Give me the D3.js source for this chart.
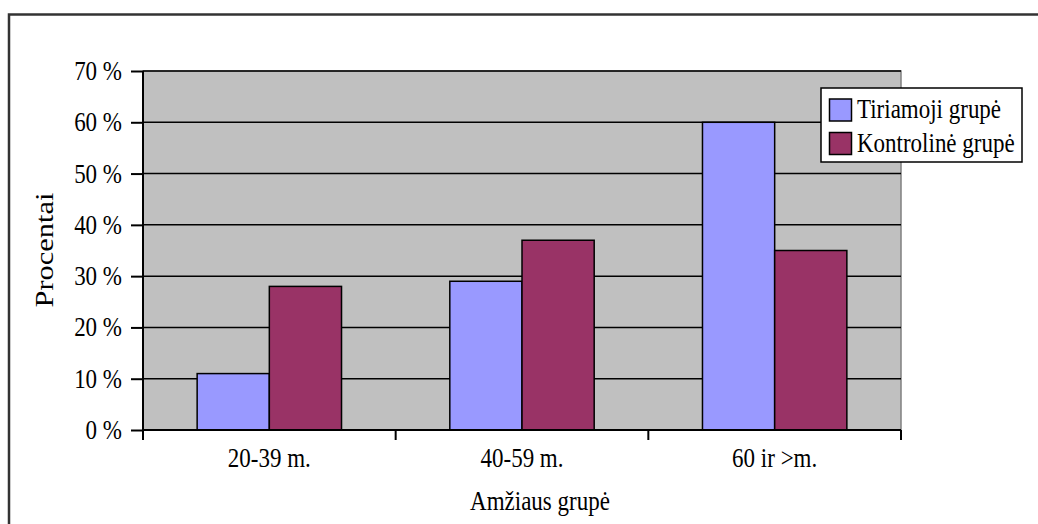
<!DOCTYPE html>
<html><head><meta charset="utf-8">
<script src="https://cdn.jsdelivr.net/npm/d3@7"></script>
<style>html,body{margin:0;padding:0;background:#fff;}svg{display:block;}</style>
</head><body>
<svg id="c" width="1038" height="524"></svg>
<script>
const categories = ["20-39 m.", "40-59 m.", "60 ir >m."];
const seriesNames = ["Tiriamoji grupė", "Kontrolinė grupė"];
const tiriamoji = [11, 29, 60];
const kontroline = [28, 37, 35];
const yTicks = [0, 10, 20, 30, 40, 50, 60, 70];
const colors = ["#9999FF", "#993366"];

const svg = d3.select("#c");
const font = "'Liberation Serif','Times New Roman',serif";
const fs = 23;
const sy = 1.15;
const L = 143, R = 901, T = 71, B = 430;

// outer border
svg.append("rect").attr("x", 9).attr("y", 14.5).attr("width", 1100).attr("height", 600)
  .attr("fill", "none").attr("stroke", "#333").attr("stroke-width", 2.5);

const x = d3.scaleBand().domain(categories).range([L, R]).paddingInner(0).paddingOuter(0);
const y = d3.scaleLinear().domain([0, 70]).range([B, T]);

svg.append("rect").attr("x", L).attr("y", T).attr("width", R - L).attr("height", B - T)
  .attr("fill", "#C0C0C0").attr("stroke", "#808080").attr("stroke-width", 1.5);

// gridlines
svg.append("g").selectAll("line").data(yTicks.filter(d => d > 0)).join("line")
  .attr("x1", L).attr("x2", R).attr("y1", d => y(d)).attr("y2", d => y(d))
  .attr("stroke", "#000").attr("stroke-width", 1.5);

// bars
const bw = x.bandwidth() / 3.5;
const data = [tiriamoji, kontroline];
data.forEach((vals, si) => {
  svg.append("g").selectAll("rect").data(categories).join("rect")
    .attr("x", (c) => x(c) + x.bandwidth() / 2 - bw + si * bw)
    .attr("y", (c, i) => y(vals[i]))
    .attr("width", bw)
    .attr("height", (c, i) => B - y(vals[i]))
    .attr("fill", colors[si]).attr("stroke", "#000").attr("stroke-width", 1.5);
});

// y axis
const yAxis = d3.axisLeft(y).tickValues(yTicks).tickSize(12).tickPadding(9).tickFormat(d => d + " %");
const gy = svg.append("g").attr("transform", `translate(${L},0)`).call(yAxis);
gy.select(".domain").attr("stroke", "#000").attr("stroke-width", 2).attr("d", `M0,${T}V${B}`);
gy.selectAll(".tick line").attr("stroke", "#000").attr("stroke-width", 2);
gy.selectAll(".tick text").attr("font-family", font).attr("font-size", fs).attr("fill", "#000")
  .attr("transform", `scale(1,${sy})`);

// x axis
const gx = svg.append("g").attr("transform", `translate(0,${B})`);
gx.append("line").attr("x1", L).attr("x2", R).attr("y1", 0).attr("y2", 0).attr("stroke", "#000").attr("stroke-width", 2);
const bounds = [L].concat(categories.map(c => x(c) + x.bandwidth()));
gx.selectAll("line.t").data(bounds).join("line").attr("class", "t")
  .attr("x1", d => d).attr("x2", d => d).attr("y1", 0).attr("y2", 10)
  .attr("stroke", "#000").attr("stroke-width", 2);
gx.selectAll("text").data(categories).join("text")
  .attr("transform", d => `translate(${x(d) + x.bandwidth() / 2},37) scale(1,${sy})`)
  .attr("text-anchor", "middle").attr("font-family", font).attr("font-size", fs).text(d => d);

// titles
svg.append("text").attr("transform", `translate(540,510) scale(1,${sy})`).attr("text-anchor", "middle")
  .attr("font-family", font).attr("font-size", fs).text("Amžiaus grupė");
svg.append("text").attr("transform", "translate(53,250) scale(1,1.17) rotate(-90)").attr("text-anchor", "middle")
  .attr("font-family", font).attr("font-size", 26).text("Procentai");

// legend
const lg = svg.append("g");
lg.append("rect").attr("x", 821).attr("y", 88).attr("width", 201).attr("height", 74)
  .attr("fill", "#fff").attr("stroke", "#000").attr("stroke-width", 1.5);
seriesNames.forEach((n, i) => {
  lg.append("rect").attr("x", 829.5).attr("y", 99 + i * 33.5).attr("width", 22).attr("height", 22)
    .attr("fill", colors[i]).attr("stroke", "#000").attr("stroke-width", 1.5);
  lg.append("text").attr("transform", `translate(857,${118 + i * 33.5}) scale(1,${sy})`)
    .attr("font-family", font).attr("font-size", fs).text(n);
});
</script>
</body></html>
